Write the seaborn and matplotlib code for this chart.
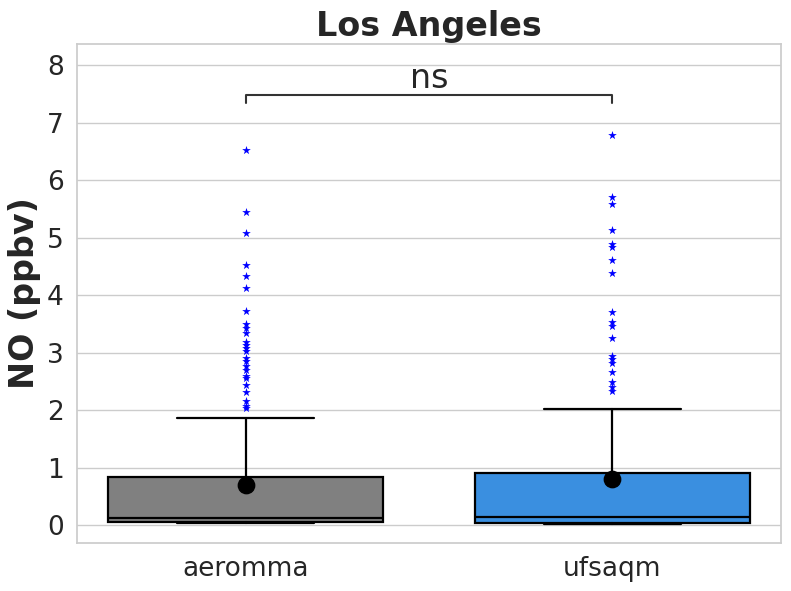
import matplotlib
matplotlib.use('Agg')
import matplotlib.pyplot as plt
import seaborn as sns
import pandas as pd

# values
models = ['aeromma', 'ufsaqm']
box_colors = ['#808080', '#3a8fe0']
q1 = [0.06, 0.04]
medians = [0.12, 0.14]
q3 = [0.84, 0.91]
whis_lo = [0.03, 0.02]
whis_hi = [1.87, 2.02]
means = [0.70, 0.80]

fliers_aeromma = [6.53, 5.44, 5.09, 4.53, 4.33, 4.12, 3.73, 3.50, 3.43, 3.34,
                  3.19, 3.13, 3.08, 3.03, 2.91, 2.85, 2.77, 2.70, 2.60, 2.56,
                  2.43, 2.32, 2.16, 2.07, 2.03]
fliers_ufsaqm = [6.79, 5.71, 5.59, 5.13, 4.89, 4.84, 4.61, 4.39, 3.71, 3.54,
                 3.46, 3.25, 2.94, 2.89, 2.83, 2.67, 2.49, 2.41, 2.34]

sns.set_theme(style='whitegrid')

fig = plt.figure(figsize=(7.91, 5.91), dpi=100)
ax = fig.add_axes([0.0973, 0.0812, 0.8901, 0.8443])

# outliers as blue stars
flier_df = pd.DataFrame({
    'model': ['aeromma'] * len(fliers_aeromma) + ['ufsaqm'] * len(fliers_ufsaqm),
    'NO': fliers_aeromma + fliers_ufsaqm,
})
sns.stripplot(data=flier_df, x='model', y='NO', order=models, jitter=False,
              marker='*', color='blue', size=6.5, linewidth=0, ax=ax, zorder=4)

# boxes from the summary stats
stats = []
for i, m in enumerate(models):
    stats.append(dict(label=m, q1=q1[i], med=medians[i], q3=q3[i],
                      whislo=whis_lo[i], whishi=whis_hi[i], fliers=[]))
bp = ax.bxp(stats, positions=[0, 1], widths=0.75, patch_artist=True,
            showfliers=False, manage_ticks=False,
            boxprops=dict(edgecolor='black', linewidth=1.6),
            medianprops=dict(color='black', linewidth=1.6),
            whiskerprops=dict(color='black', linewidth=1.6),
            capprops=dict(color='black', linewidth=1.6))
for patch, c in zip(bp['boxes'], box_colors):
    patch.set_facecolor(c)

# means
mean_df = pd.DataFrame({'model': models, 'mean': means})
sns.scatterplot(data=mean_df, x='model', y='mean', color='black', s=140,
                marker='o', edgecolor='black', ax=ax, zorder=5, legend=False)

# significance bracket
ax.plot([0, 0, 1, 1], [7.34, 7.48, 7.48, 7.34], color='#333333', linewidth=1.5)
ax.text(0.5, 7.6, 'ns', ha='center', va='baseline', fontsize=24, color='#262626')

ax.set_xlim(-0.46, 1.46)
ax.set_ylim(-0.31, 8.37)
ax.set_xticks([0, 1])
ax.set_xticklabels(models)
ax.xaxis.grid(False)
ax.tick_params(axis='both', labelsize=19)
ax.set_xlabel('')
ax.set_ylabel('NO (ppbv)', fontsize=24, fontweight='bold')
ax.set_title('Los Angeles', fontsize=24, fontweight='bold')

fig.savefig('out.png', dpi=100)
